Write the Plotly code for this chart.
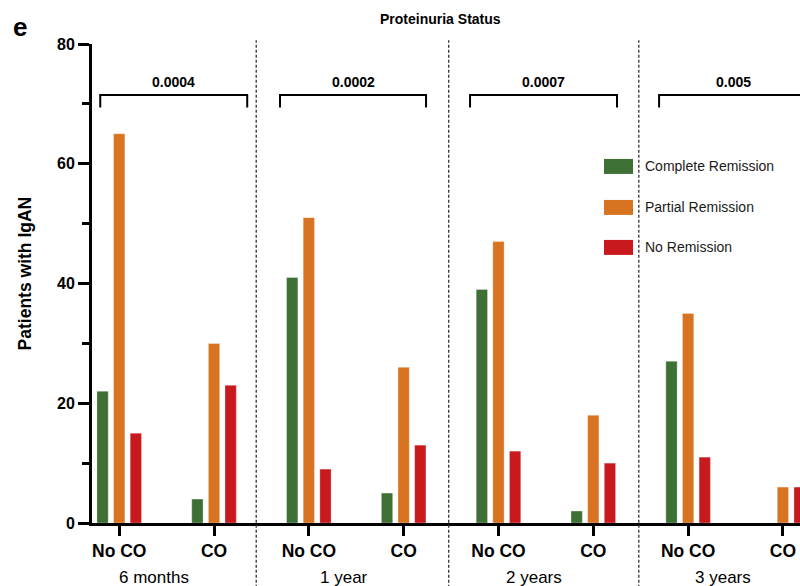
import plotly.graph_objects as go

# ---- data ----
timepoints = ["6 months", "1 year", "2 years", "3 years"]
groups = ["No CO", "CO"]
complete_remission = [22, 4, 41, 5, 39, 2, 27, 0]
partial_remission = [65, 30, 51, 26, 47, 18, 35, 6]
no_remission = [15, 23, 9, 13, 12, 10, 11, 6]
p_values = ["0.0004", "0.0002", "0.0007", "0.005"]
tick_labels = [g for _ in timepoints for g in groups]
positions = list(range(len(tick_labels)))

series = [
    ("Complete Remission", complete_remission, "#3E7036"),
    ("Partial Remission", partial_remission, "#D87421"),
    ("No Remission", no_remission, "#C8191E"),
]

W, H = 800, 586
L, R, T, B = 92, 0, 43.5, 63.3
PW, PH = W - L - R, H - T - B
FONT = "Liberation Sans, Arial, Helvetica, sans-serif"


def px_x(x):
    return (x - L) / PW


def px_y(y):
    return (H - B - y) / PH


fig = go.Figure()
for name, vals, col in series:
    fig.add_trace(go.Bar(
        x=positions, y=vals, name=name,
        marker=dict(color=col, line=dict(color="rgba(255,255,255,0.5)", width=0.6)),
        showlegend=False,
    ))

shapes = []
annotations = []

# dashed separators between time points
for xs in [1.445, 3.475, 5.48]:
    shapes.append(dict(type="line", xref="x", yref="paper", x0=xs, x1=xs,
                       y0=-0.135, y1=1.008,
                       line=dict(color="#333333", width=1.3, dash="3px,2px")))

# significance brackets
bracket_ends = [(-0.2, 1.35), (1.696, 3.236), (3.70, 5.25), (5.694, 7.256)]
y_top, y_end = 71.5, 69.4
for (a, b), p in zip(bracket_ends, p_values):
    shapes.append(dict(type="path", xref="x", yref="y",
                       path=f"M {a},{y_end} L {a},{y_top} L {b},{y_top} L {b},{y_end}",
                       line=dict(color="black", width=2)))
    annotations.append(dict(x=(a + b) / 2, y=y_top, xref="x", yref="y",
                            text=p, showarrow=False, yanchor="bottom", yshift=3,
                            font=dict(family=FONT, size=14, color="black", weight="bold")))

# time-point labels under the axis
for i, tp in enumerate(timepoints):
    annotations.append(dict(x=2 * i + 0.37, y=px_y(577), xref="x", yref="paper",
                            text=tp, showarrow=False, xanchor="center", yanchor="middle",
                            font=dict(family=FONT, size=17, color="black")))

# custom legend
leg_rows = [166, 207, 247]
for (name, _, col), yc in zip(series, leg_rows):
    shapes.append(dict(type="rect", xref="paper", yref="paper",
                       x0=px_x(604), x1=px_x(633), y0=px_y(yc + 7.5), y1=px_y(yc - 7.5),
                       fillcolor=col, line=dict(width=0)))
    annotations.append(dict(x=px_x(643), y=px_y(yc), xref="paper", yref="paper",
                            text=name, showarrow=False, xanchor="left", yanchor="middle",
                            font=dict(family=FONT, size=14, color="#1a1a1a")))

# title, panel letter, y-axis title
annotations.append(dict(x=px_x(440), y=px_y(18), xref="paper", yref="paper",
                        text="Proteinuria Status", showarrow=False,
                        xanchor="center", yanchor="middle",
                        font=dict(family=FONT, size=14, color="black", weight="bold")))
annotations.append(dict(x=px_x(20), y=px_y(26), xref="paper", yref="paper",
                        text="e", showarrow=False, xanchor="center", yanchor="middle",
                        font=dict(family=FONT, size=26, color="black", weight="bold")))
annotations.append(dict(x=px_x(25), y=px_y(273), xref="paper", yref="paper",
                        text="Patients with IgAN", showarrow=False, textangle=-90,
                        xanchor="center", yanchor="middle",
                        font=dict(family=FONT, size=17.5, color="black", weight="bold")))

fig.update_layout(
    width=W, height=H,
    margin=dict(l=L, r=R, t=T, b=B, pad=0, autoexpand=False),
    plot_bgcolor="white", paper_bgcolor="white",
    barmode="group", bargap=0.474, bargroupgap=0.32,
    shapes=shapes, annotations=annotations,
    showlegend=False,
    font=dict(family=FONT, color="black"),
)
fig.update_xaxes(
    range=[-0.287, 7.18], tickmode="array", tickvals=positions, ticktext=tick_labels,
    showline=True, linecolor="black", linewidth=3, ticks="outside", ticklen=10,
    tickwidth=2.5, tickcolor="black", showgrid=False, zeroline=False, automargin=False,
    tickfont=dict(family=FONT, size=17.5, color="black", weight="bold"),
)
fig.update_yaxes(
    range=[0, 80], tickvals=[0, 20, 40, 60, 80],
    showline=True, linecolor="black", linewidth=3, ticks="outside", ticklen=11,
    tickwidth=2.5, tickcolor="black", showgrid=False, zeroline=False, automargin=False,
    minor=dict(dtick=10, ticks="outside", ticklen=7, tickwidth=2.5, tickcolor="black"),
    tickfont=dict(family=FONT, size=16, color="black", weight="bold"),
)

fig.write_html("out.html", config={"displayModeBar": False},
               post_script="document.body.style.margin='0px';")
